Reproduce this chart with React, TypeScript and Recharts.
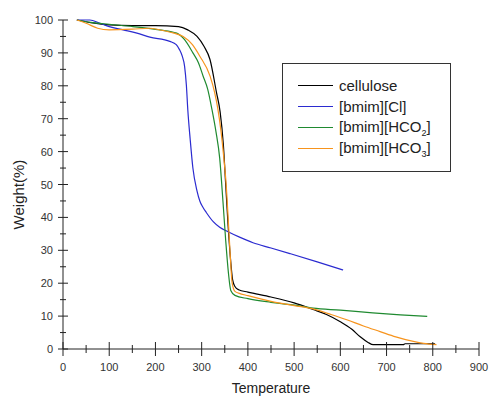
import React from 'react'
import { LineChart, Line, XAxis, YAxis, Legend } from 'recharts'

// temperature (x) and weight % (y)
const celluloseT = [30, 60, 100, 150, 200, 250, 270, 290, 305, 318, 332, 340, 347, 352, 357, 362, 367, 372, 380, 400, 450, 500, 541, 570, 600, 625, 643, 660, 671, 700, 736, 740, 780, 805]
const celluloseW = [100, 99.2, 98.5, 98.3, 98.3, 98, 97, 95, 92, 88, 78, 72, 62, 50, 38, 28, 21, 19, 18, 17.3, 15.8, 14, 12, 10.5, 8.3, 6, 3.7, 2, 1.3, 1.3, 1.3, 1.6, 1.6, 1.6]

const clT = [30, 58, 80, 100, 130, 160, 188, 231, 245, 252, 258, 263, 267, 270, 275, 281, 290, 296, 303, 310, 325, 339, 355, 382, 411, 450, 491, 550, 606]
const clW = [100, 100, 99, 98, 97, 96, 94.8, 93.5, 92.5, 91, 89, 86, 80, 72.7, 64, 55, 48, 45, 43, 41.5, 38.7, 37, 35.8, 34, 32.3, 30.7, 29, 26.5, 24]

const hco2T = [30, 60, 100, 151, 209, 246, 263, 281, 293, 303, 313, 322, 331, 339, 346, 352, 358, 363, 372, 400, 450, 497, 541, 600, 670, 730, 788]
const hco2W = [100, 99.3, 98.7, 98, 97, 96, 94, 90, 87, 83, 79, 73, 66, 58, 45, 33, 23, 17.8, 16.3, 15.3, 14.2, 13.4, 12.4, 11.8, 11, 10.4, 9.9]

const hco3T = [30, 50, 75, 100, 150, 188, 209, 240, 260, 280, 296, 318, 328, 335, 342, 348, 353, 358, 362, 366, 372, 380, 400, 450, 500, 541, 580, 614, 650, 686, 720, 758, 780, 808]
const hco3W = [100, 99, 97.5, 97, 97.2, 97.5, 97, 96, 95, 92.5, 89, 83, 78, 73, 66, 58, 50, 38, 28, 20, 17.5, 17, 16.2, 14.5, 13.2, 12.2, 10.5, 8.9, 7, 5.3, 3.7, 2.3, 1.7, 1.3]

const seriesNames = ['cellulose', '[bmim][Cl]', '[bmim][HCO2]', '[bmim][HCO3]']
const seriesColors = ['#000000', '#2b2bd0', '#1f8a30', '#f7941d']

const xTicks = [0, 50, 100, 150, 200, 250, 300, 350, 400, 450, 500, 550, 600, 650, 700, 750, 800, 850, 900]
const yTicks = [0, 5, 10, 15, 20, 25, 30, 35, 40, 45, 50, 55, 60, 65, 70, 75, 80, 85, 90, 95, 100]

const zip = (t: number[], w: number[]) => t.map((v, i) => ({ t: v, w: w[i] }))

const seriesData = [
  zip(celluloseT, celluloseW),
  zip(clT, clW),
  zip(hco2T, hco2W),
  zip(hco3T, hco3W),
]

const FONT = '"Liberation Sans", Arial, sans-serif'

function XTick(props: any) {
  const { x, y, payload } = props
  const major = payload.value % 100 === 0
  return (
    <g>
      <line x1={x} x2={x} y1={y - (major ? 7 : 4)} y2={y + (major ? 7 : 4)} stroke="#222" />
      {major && (
        <text x={x} y={y + 22} textAnchor="middle" fontSize={11} fill="#333" fontFamily={FONT}>
          {payload.value}
        </text>
      )}
    </g>
  )
}

function YTick(props: any) {
  const { x, y, payload } = props
  const major = payload.value % 10 === 0
  return (
    <g>
      <line x1={x - (major ? 5 : 3)} x2={x + (major ? 5 : 3)} y1={y} y2={y} stroke="#222" />
      {major && (
        <text x={x - 10} y={y + 4} textAnchor="end" fontSize={11} fill="#333" fontFamily={FONT}>
          {payload.value}
        </text>
      )}
    </g>
  )
}

// subscript the trailing digit in names like [bmim][HCO2]
function LegendName({ name }: { name: string }) {
  const m = name.match(/^(.*?)(\d)(\]?)$/)
  if (!m) return <span>{name}</span>
  return (
    <span>
      {m[1]}
      <sub style={{ fontSize: 9, verticalAlign: -4 }}>{m[2]}</sub>
      {m[3]}
    </span>
  )
}

function LegendBox() {
  return (
    <div
      style={{
        width: 167,
        height: 107,
        border: '1px solid #333',
        background: '#fff',
        position: 'relative',
        fontFamily: FONT,
        fontSize: 15,
        color: '#222',
      }}
    >
      {seriesNames.map((name, i) => (
        <div
          key={name}
          style={{
            position: 'absolute',
            left: 15,
            top: 11 + i * 21.3,
            height: 20,
            display: 'flex',
            alignItems: 'center',
            whiteSpace: 'nowrap',
          }}
        >
          <span style={{ width: 35, height: 0, borderTop: `1.3px solid ${seriesColors[i]}`, marginRight: 6 }} />
          <LegendName name={name} />
        </div>
      ))}
    </div>
  )
}

export default function App() {
  return (
    <div style={{ position: 'absolute', left: 0, top: 0, background: '#fff' }}>
      <LineChart
        width={490}
        height={396}
        margin={{ top: 20, right: 11, left: 0, bottom: 0 }}
        style={{ fontFamily: FONT }}
      >
        <XAxis
          type="number"
          dataKey="t"
          domain={[0, 900]}
          ticks={xTicks}
          interval={0}
          height={47}
          tickSize={0}
          tickMargin={0}
          tickLine={false}
          tick={<XTick />}
          axisLine={{ stroke: '#222' }}
          allowDuplicatedCategory={false}
          label={{ value: 'Temperature', position: 'insideBottom', offset: 3, fontSize: 14, fill: '#222', fontFamily: FONT }}
        />
        <YAxis
          type="number"
          dataKey="w"
          domain={[0, 100]}
          ticks={yTicks}
          interval={0}
          width={63}
          tickSize={0}
          tickMargin={0}
          tickLine={false}
          tick={<YTick />}
          axisLine={{ stroke: '#222' }}
          label={{ value: 'Weight(%)', angle: -90, position: 'insideLeft', offset: 19, dy: 10, fontSize: 15, fill: '#222', fontFamily: FONT, style: { textAnchor: 'middle' } }}
        />
        <Legend
          layout="vertical"
          align="center"
          verticalAlign="middle"
          content={() => <LegendBox />}
          wrapperStyle={{ left: 282, top: 63, width: 169, height: 109 }}
        />
        {seriesData.map((d, i) => (
          <Line
            key={seriesNames[i]}
            name={seriesNames[i]}
            data={d}
            dataKey="w"
            type="monotone"
            stroke={seriesColors[i]}
            strokeWidth={1.2}
            dot={false}
            isAnimationActive={false}
          />
        ))}
      </LineChart>
    </div>
  )
}
